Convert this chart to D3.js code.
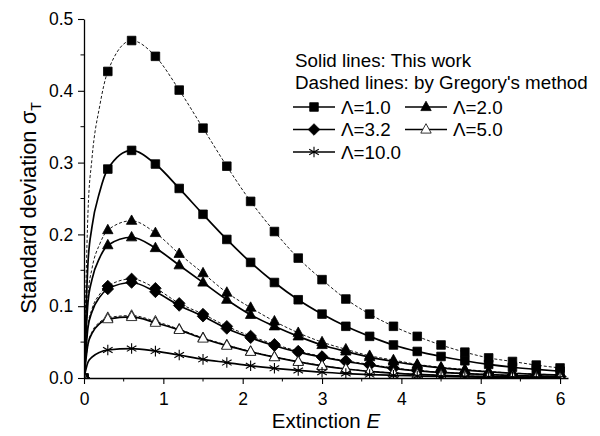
<!DOCTYPE html>
<html>
<head>
<meta charset="utf-8">
<script src="https://cdn.jsdelivr.net/npm/d3@7"></script>
<style>
  body { margin: 0; background: #fff; }
  svg { display: block; font-family: "Liberation Sans", Arial, sans-serif; }
</style>
</head>
<body>
<svg width="600" height="436"></svg>
<script>
// extinction values; markers at 0 and every 0.3, extra points near 0 only shape the line
const extinction = [0, 0.05, 0.1, 0.2, 0.3, 0.6, 0.9, 1.2, 1.5, 1.8, 2.1, 2.4, 2.7, 3.0, 3.3, 3.6, 3.9, 4.2, 4.5, 4.8, 5.1, 5.4, 5.7, 6.0];

// solid lines: this work
const solid1 = [0, 0.16, 0.21, 0.26, 0.291, 0.317, 0.298, 0.264, 0.228, 0.193, 0.161, 0.133, 0.109, 0.089, 0.072, 0.058, 0.046, 0.037, 0.030, 0.024, 0.019, 0.015, 0.012, 0.0095];
const solid2 = [0, 0.105, 0.137, 0.168, 0.185, 0.196, 0.181, 0.157, 0.133, 0.109, 0.088, 0.072, 0.058, 0.046, 0.037, 0.029, 0.023, 0.018, 0.014, 0.011, 0.0085, 0.0066, 0.0051, 0.004];
const solid32 = [0, 0.07, 0.092, 0.113, 0.124, 0.133, 0.120, 0.101, 0.086, 0.069, 0.056, 0.045, 0.036, 0.029, 0.023, 0.018, 0.0135, 0.010, 0.0078, 0.006, 0.0046, 0.0035, 0.0027, 0.002];
const solid5 = [0, 0.047, 0.062, 0.076, 0.082, 0.085, 0.077, 0.067, 0.055, 0.045, 0.0365, 0.029, 0.0225, 0.017, 0.0125, 0.0093, 0.0068, 0.005, 0.0037, 0.0027, 0.002, 0.0015, 0.0011, 0.0008];
const solid10 = [0, 0.022, 0.029, 0.036, 0.039, 0.041, 0.0375, 0.032, 0.026, 0.0215, 0.017, 0.0135, 0.0105, 0.008, 0.0062, 0.0048, 0.0037, 0.0028, 0.0021, 0.0016, 0.0012, 0.0009, 0.0007, 0.0005];

// dashed lines: Gregory's method
const dashed1 = [0, 0.23, 0.305, 0.38, 0.427, 0.470, 0.448, 0.401, 0.348, 0.295, 0.246, 0.204, 0.167, 0.137, 0.110, 0.089, 0.072, 0.058, 0.046, 0.036, 0.028, 0.023, 0.018, 0.014];
const dashed2 = [0, 0.115, 0.152, 0.187, 0.206, 0.219, 0.202, 0.173, 0.146, 0.119, 0.098, 0.079, 0.063, 0.050, 0.040, 0.031, 0.025, 0.019, 0.015, 0.012, 0.009, 0.007, 0.0055, 0.0043];
const dashed32 = [0, 0.073, 0.096, 0.117, 0.128, 0.138, 0.125, 0.104, 0.089, 0.072, 0.0585, 0.047, 0.0375, 0.030, 0.024, 0.019, 0.014, 0.0105, 0.008, 0.0062, 0.0048, 0.0036, 0.0028, 0.0021];
const dashed5 = [0, 0.048, 0.064, 0.078, 0.084, 0.087, 0.079, 0.068, 0.056, 0.046, 0.037, 0.0295, 0.023, 0.0173, 0.0128, 0.0095, 0.007, 0.0051, 0.0038, 0.0028, 0.002, 0.0015, 0.0011, 0.0008];

const lambdaLabels = ["Λ=1.0", "Λ=2.0", "Λ=3.2", "Λ=5.0", "Λ=10.0"];
const xTicks = [0, 1, 2, 3, 4, 5, 6];
const yTicks = [0, 0.1, 0.2, 0.3, 0.4, 0.5];

const series = [
  { label: lambdaLabels[0], solid: solid1, dashed: dashed1, marker: "square" },
  { label: lambdaLabels[1], solid: solid2, dashed: dashed2, marker: "triangle" },
  { label: lambdaLabels[2], solid: solid32, dashed: dashed32, marker: "diamond" },
  { label: lambdaLabels[3], solid: solid5, dashed: dashed5, marker: "openTriangle" },
  { label: lambdaLabels[4], solid: solid10, dashed: null, marker: "asterisk" }
];

const svg = d3.select("svg");
const plotLeft = 84, plotRight = 568, plotTop = 19, plotBottom = 378;

const x = d3.scaleLinear().domain([0, 6.1]).range([plotLeft, plotRight]);
const y = d3.scaleLinear().domain([0, 0.5]).range([plotBottom, plotTop]);

svg.append("defs").append("clipPath")
  .attr("id", "plotClip")
  .append("rect")
  .attr("x", plotLeft).attr("y", 0)
  .attr("width", 600 - plotLeft).attr("height", plotBottom);

function markerPath(type) {
  if (type === "square") return "M-4.3,-4.3H4.3V4.3H-4.3Z";
  if (type === "triangle" || type === "openTriangle") return "M0,-5.8L5.2,3.6H-5.2Z";
  if (type === "diamond") return "M0,-5.8L5.8,0L0,5.8L-5.8,0Z";
  // asterisk: vertical stroke plus two diagonals
  return "M0,-5.3V5.3M-4.8,-2.8L4.8,2.8M-4.8,2.8L4.8,-2.8";
}

function drawMarker(sel, type) {
  sel.append("path")
    .attr("d", markerPath(type))
    .attr("fill", type === "openTriangle" ? "#fff" : (type === "asterisk" ? "none" : "#000"))
    .attr("stroke", "#000")
    .attr("stroke-width", type === "asterisk" ? 1.1 : 0.8);
}

const line = d3.line()
  .x(d => x(d[0]))
  .y(d => y(d[1]))
  .curve(d3.curveMonotoneX);

const plot = svg.append("g").attr("clip-path", "url(#plotClip)");

series.forEach(s => {
  const kinds = s.dashed ? [["dashed", s.dashed], ["solid", s.solid]] : [["solid", s.solid]];
  kinds.forEach(([kind, vals]) => {
    const pts = extinction.map((e, i) => [e, vals[i]]);
    plot.append("path")
      .datum(pts)
      .attr("fill", "none")
      .attr("stroke", "#000")
      .attr("stroke-width", kind === "solid" ? 1.7 : 0.9)
      .attr("stroke-dasharray", kind === "solid" ? null : "3,2")
      .attr("d", line);

    const marks = pts.filter(p => p[0] === 0 || p[0] >= 0.3);
    plot.append("g")
      .selectAll("g")
      .data(marks)
      .join("g")
      .attr("transform", d => `translate(${x(d[0])},${y(d[1])})`)
      .each(function () { drawMarker(d3.select(this), s.marker); });
  });
});

// axes
const xAxis = svg.append("g")
  .attr("transform", `translate(0,${plotBottom})`)
  .call(d3.axisBottom(x).tickValues(xTicks).tickFormat(d3.format("d")).tickSize(6).tickSizeOuter(0));
xAxis.append("g").selectAll("line")
  .data(d3.range(0.5, 6, 1))
  .join("line")
  .attr("x1", d => x(d)).attr("x2", d => x(d))
  .attr("y1", 0).attr("y2", 3.5)
  .attr("stroke", "#000");

const yAxis = svg.append("g")
  .attr("transform", `translate(${plotLeft},0)`)
  .call(d3.axisLeft(y).tickValues(yTicks).tickFormat(d3.format(".1f")).tickSize(6).tickSizeOuter(0));
yAxis.append("g").selectAll("line")
  .data(d3.range(0.05, 0.5, 0.1))
  .join("line")
  .attr("y1", d => y(d)).attr("y2", d => y(d))
  .attr("x1", 0).attr("x2", -3.5)
  .attr("stroke", "#000");

[xAxis, yAxis].forEach(a => {
  a.select(".domain").attr("stroke-width", 1.3);
  a.selectAll(".tick line").attr("stroke-width", 1.1);
  a.selectAll("text")
    .attr("font-family", "Liberation Sans, Arial, sans-serif")
    .attr("font-size", 17.5)
    .attr("fill", "#000");
});
xAxis.selectAll(".tick text").attr("dy", "1.0em");
yAxis.selectAll(".tick text").attr("dx", "-0.1em");

// axis titles
svg.append("text")
  .attr("x", 326)
  .attr("y", 428)
  .attr("text-anchor", "middle")
  .attr("font-size", 20.5)
  .html('Extinction <tspan font-style="italic">E</tspan>');

svg.append("text")
  .attr("transform", "translate(36,208) rotate(-90)")
  .attr("text-anchor", "middle")
  .attr("font-size", 22)
  .html('Standard deviation σ<tspan font-size="14" dy="5">T</tspan>');

// legend
const legend = svg.append("g").attr("font-size", 18.8);
legend.append("text").attr("x", 295).attr("y", 67).text("Solid lines: This work");
legend.append("text").attr("x", 295).attr("y", 89).text("Dashed lines: by Gregory's method");

series.forEach((s, i) => {
  const col = i % 2, row = Math.floor(i / 2);
  const lx = 293 + col * 112, ly = 107 + row * 22.5;
  const item = legend.append("g").attr("transform", `translate(${lx},${ly})`);
  item.append("line")
    .attr("x1", 0).attr("x2", 42)
    .attr("stroke", "#000").attr("stroke-width", 1.5);
  drawMarker(item.append("g").attr("transform", "translate(21,0)"), s.marker);
  item.append("text")
    .attr("x", 48).attr("y", 6.5)
    .text(s.label);
});
</script>
</body>
</html>
